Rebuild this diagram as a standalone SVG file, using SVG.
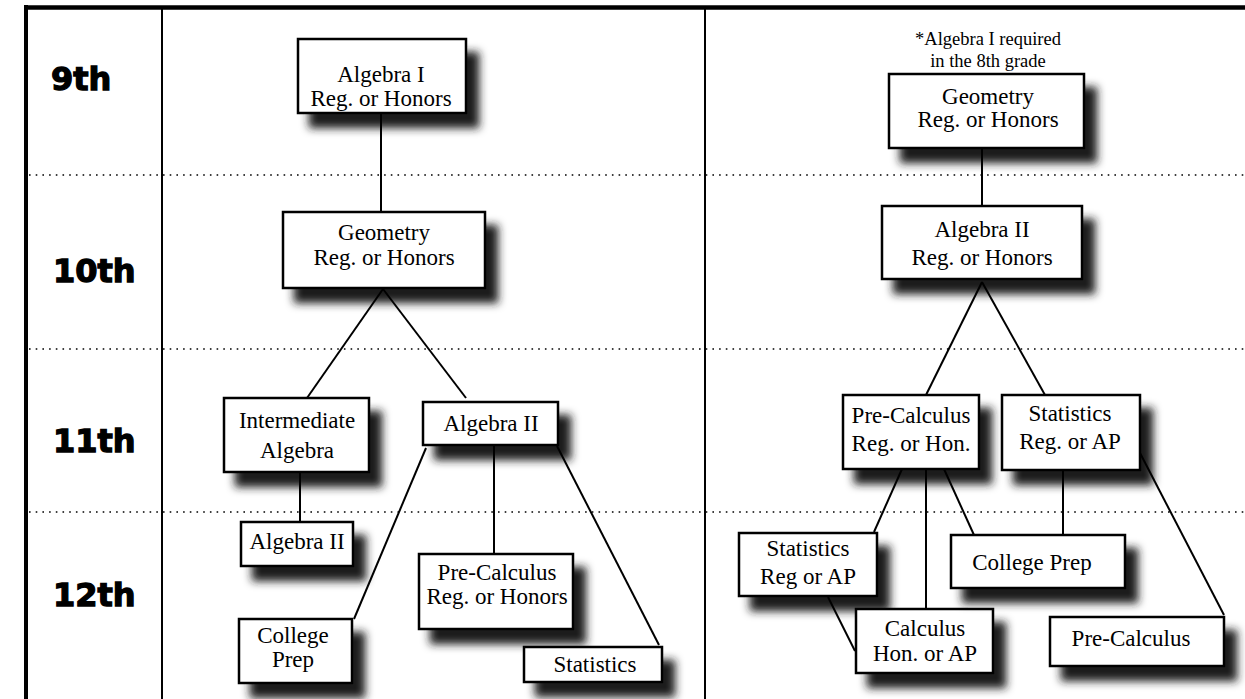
<svg xmlns="http://www.w3.org/2000/svg" width="1245" height="699" viewBox="0 0 1245 699">
<defs>
<filter id="sh" x="-20%" y="-30%" width="150%" height="190%">
<feGaussianBlur in="SourceAlpha" stdDeviation="4"/>
<feOffset dx="12" dy="14" result="b"/>
<feFlood flood-color="#1e1e1e" flood-opacity="1"/>
<feComposite in2="b" operator="in" result="s"/>
<feMerge><feMergeNode in="s"/><feMergeNode in="SourceGraphic"/></feMerge>
</filter>
</defs>
<style>
.bx{fill:#fff;stroke:#000;stroke-width:2.5;filter:url(#sh)}
.t{font-family:"Liberation Serif","Times New Roman",serif;font-size:23px;fill:#000;text-anchor:middle}
.n{font-family:"Liberation Serif","Times New Roman",serif;font-size:18.5px;fill:#000;text-anchor:middle}
.g{font-family:"DejaVu Sans","Liberation Sans",sans-serif;font-weight:bold;font-size:32px;fill:#000;stroke:#000;stroke-width:1.3}
.dot{stroke:#000;stroke-width:1.6;stroke-dasharray:1.6 5.1;fill:none}
.fr{stroke:#000;fill:none}
.c{stroke:#000;stroke-width:2;fill:none}
</style>
<rect width="1245" height="699" fill="#fff"/>
<g id="frame">
<line class="fr" x1="26" y1="7.5" x2="1245" y2="7.5" stroke-width="4.5"/>
<line class="fr" x1="26" y1="5" x2="26" y2="699" stroke-width="4"/>
<line class="fr" x1="162" y1="7" x2="162" y2="699" stroke-width="2"/>
<line class="fr" x1="705" y1="7" x2="705" y2="699" stroke-width="2"/>
<line class="dot" x1="29" y1="175" x2="1245" y2="175"/>
<line class="dot" x1="29" y1="349" x2="1245" y2="349"/>
<line class="dot" x1="29" y1="512" x2="1245" y2="512"/>
</g>
<g id="grades">
<text class="g" x="51" y="90">9th</text>
<text class="g" x="53" y="282">10th</text>
<text class="g" x="53" y="452">11th</text>
<text class="g" x="53" y="606">12th</text>
</g>
<g id="note">
<text class="n" x="988" y="45">*Algebra I required</text>
<text class="n" x="988" y="67">in the 8th grade</text>
</g>
<g id="n-alg1">
<rect class="bx" x="298" y="39" width="168" height="74"/>
<text class="t" x="381" y="82">Algebra I</text>
<text class="t" x="381" y="106">Reg. or Honors</text>
</g>
<g id="n-geo-l">
<rect class="bx" x="283" y="212" width="202" height="76"/>
<text class="t" x="384" y="240">Geometry</text>
<text class="t" x="384" y="265">Reg. or Honors</text>
</g>
<g id="n-intalg">
<rect class="bx" x="224" y="398" width="145" height="74"/>
<text class="t" x="297" y="428">Intermediate</text>
<text class="t" x="297" y="458">Algebra</text>
</g>
<g id="n-alg2-mid">
<rect class="bx" x="423" y="402" width="135" height="43"/>
<text class="t" x="491" y="431">Algebra II</text>
</g>
<g id="n-alg2-small">
<rect class="bx" x="241" y="522" width="112" height="44"/>
<text class="t" x="297" y="549">Algebra II</text>
</g>
<g id="n-cprep-l">
<rect class="bx" x="239" y="619" width="113" height="64"/>
<text class="t" x="293" y="643">College</text>
<text class="t" x="293" y="667">Prep</text>
</g>
<g id="n-precalc-l">
<rect class="bx" x="419" y="554" width="154" height="75"/>
<text class="t" x="497" y="580">Pre-Calculus</text>
<text class="t" x="497" y="604">Reg. or Honors</text>
</g>
<g id="n-stat-l">
<rect class="bx" x="524" y="647" width="138" height="35"/>
<text class="t" x="595" y="672">Statistics</text>
</g>
<g id="n-geo-r">
<rect class="bx" x="889" y="74" width="195" height="74"/>
<text class="t" x="988" y="104">Geometry</text>
<text class="t" x="988" y="127">Reg. or Honors</text>
</g>
<g id="n-alg2-r">
<rect class="bx" x="882" y="206" width="200" height="73"/>
<text class="t" x="982" y="237">Algebra II</text>
<text class="t" x="982" y="265">Reg. or Honors</text>
</g>
<g id="n-precalc-r">
<rect class="bx" x="843" y="395" width="136" height="74"/>
<text class="t" x="911" y="423">Pre-Calculus</text>
<text class="t" x="911" y="451">Reg. or Hon.</text>
</g>
<g id="n-stat-r">
<rect class="bx" x="1002" y="395" width="138" height="75"/>
<text class="t" x="1070" y="421">Statistics</text>
<text class="t" x="1070" y="449">Reg. or AP</text>
</g>
<g id="n-stat-r2">
<rect class="bx" x="739" y="533" width="138" height="63"/>
<text class="t" x="808" y="556">Statistics</text>
<text class="t" x="808" y="584">Reg or AP</text>
</g>
<g id="n-calc">
<rect class="bx" x="856" y="609" width="137" height="64"/>
<text class="t" x="925" y="636">Calculus</text>
<text class="t" x="925" y="661">Hon. or AP</text>
</g>
<g id="n-cprep-r">
<rect class="bx" x="951" y="535" width="174" height="53"/>
<text class="t" x="1032" y="570">College Prep</text>
</g>
<g id="n-precalc-r2">
<rect class="bx" x="1050" y="617" width="174" height="49"/>
<text class="t" x="1131" y="646">Pre-Calculus</text>
</g>
<g id="connectors">
<line class="c" x1="381" y1="113" x2="381" y2="212"/>
<line class="c" x1="383" y1="289" x2="307" y2="398"/>
<line class="c" x1="383" y1="289" x2="466" y2="398"/>
<line class="c" x1="300" y1="472" x2="300" y2="522"/>
<line class="c" x1="426" y1="448" x2="354" y2="619"/>
<line class="c" x1="494" y1="445" x2="494" y2="554"/>
<line class="c" x1="557" y1="446" x2="659" y2="645"/>
<line class="c" x1="982" y1="148" x2="982" y2="206"/>
<line class="c" x1="982" y1="282" x2="926" y2="395"/>
<line class="c" x1="982" y1="282" x2="1045" y2="395"/>
<line class="c" x1="902" y1="469" x2="874" y2="532"/>
<line class="c" x1="926" y1="469" x2="926" y2="609"/>
<line class="c" x1="944" y1="469" x2="974" y2="535"/>
<line class="c" x1="1063" y1="470" x2="1063" y2="535"/>
<line class="c" x1="1140" y1="453" x2="1224" y2="615"/>
<line class="c" x1="828" y1="597" x2="855" y2="651"/>
</g>
</svg>
